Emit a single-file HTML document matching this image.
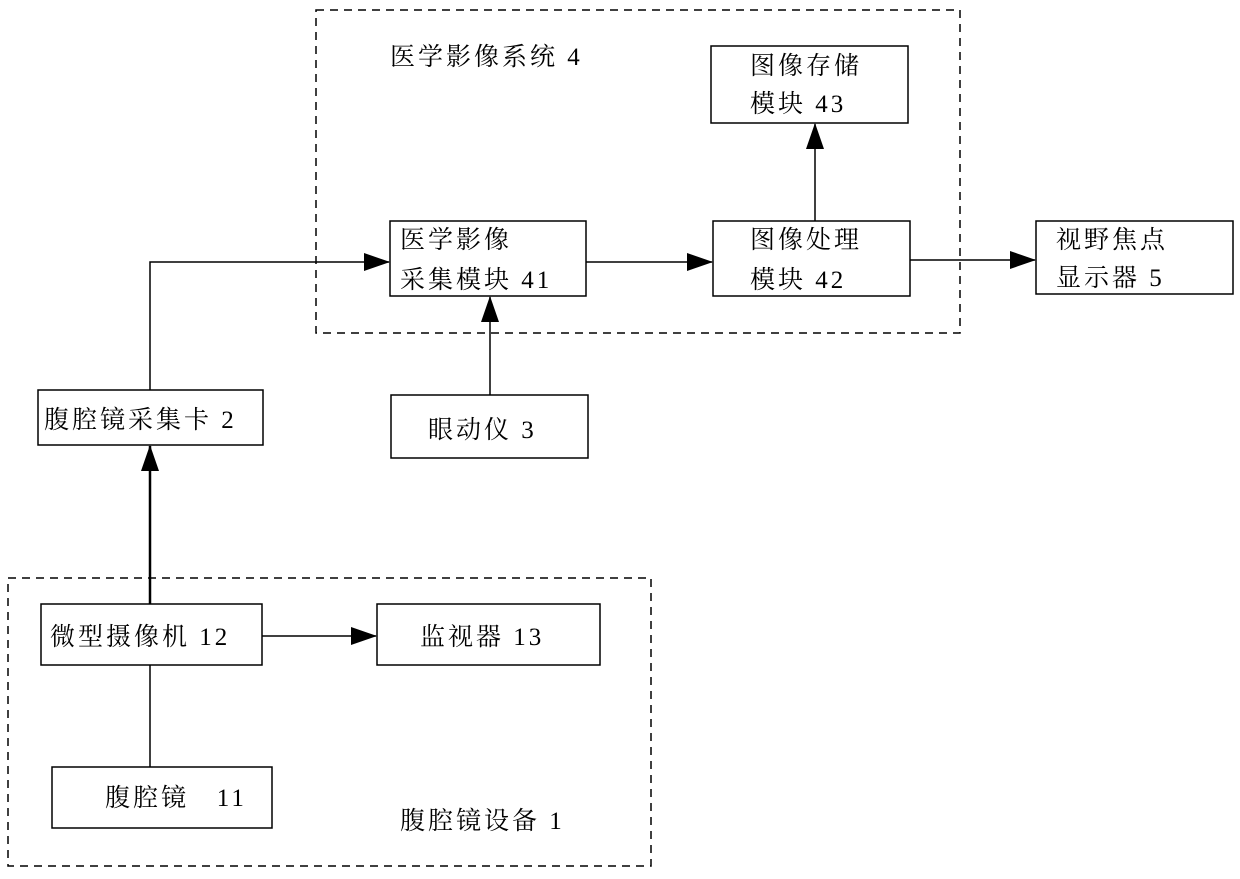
<!DOCTYPE html>
<html><head><meta charset="utf-8"><style>
html,body{margin:0;padding:0;background:#fff;}
svg text{font-family:"Liberation Serif","Noto Serif CJK SC","Noto Sans CJK SC",serif;font-size:25px;letter-spacing:3px;fill:#000;}
</style></head><body>
<svg width="1240" height="874" viewBox="0 0 1240 874" xmlns="http://www.w3.org/2000/svg">
<defs><marker id="b" markerWidth="26" markerHeight="18" refX="25" refY="9" orient="auto" markerUnits="userSpaceOnUse"><path d="M0,0 L26,9 L0,18 Z" fill="#000"/></marker></defs>
<g fill="none" stroke="#000" stroke-width="1.5">
<rect x="316" y="10" width="644" height="323" stroke-dasharray="8,6"/>
<rect x="8" y="578" width="643" height="288" stroke-dasharray="8,6"/>
<rect x="711" y="46" width="197" height="77"/>
<rect x="390" y="221" width="196" height="75"/>
<rect x="713" y="221" width="197" height="75"/>
<rect x="1036" y="221" width="197" height="73"/>
<rect x="38" y="390" width="225" height="55"/>
<rect x="391" y="395" width="197" height="63"/>
<rect x="41" y="604" width="221" height="61"/>
<rect x="377" y="604" width="223" height="61"/>
<rect x="52" y="767" width="220" height="61"/>
<polyline points="150,390 150,262 389,262" marker-end="url(#b)"/>
<line x1="586" y1="262" x2="712" y2="262" marker-end="url(#b)"/>
<line x1="815" y1="221" x2="815" y2="124" marker-end="url(#b)"/>
<line x1="910" y1="260" x2="1035" y2="260" marker-end="url(#b)"/>
<line x1="490" y1="395" x2="490" y2="297" marker-end="url(#b)"/>
<line x1="150" y1="604" x2="150" y2="446" stroke-width="2.5" marker-end="url(#b)"/>
<line x1="262" y1="636" x2="376" y2="636" marker-end="url(#b)"/>
<line x1="150" y1="767" x2="150" y2="665"/>
</g>
<text x="390" y="65">医学影像系统 4</text>
<text x="750" y="74">图像存储</text><text x="750" y="112">模块 43</text>
<text x="400" y="248">医学影像</text><text x="400" y="288">采集模块 41</text>
<text x="750" y="248">图像处理</text><text x="750" y="288">模块 42</text>
<text x="1056" y="248">视野焦点</text><text x="1056" y="286">显示器 5</text>
<text x="44" y="428">腹腔镜采集卡 2</text>
<text x="428" y="438">眼动仪 3</text>
<text x="50" y="645">微型摄像机 12</text>
<text x="420" y="645">监视器 13</text>
<text x="105" y="806">腹腔镜&#160;&#160;&#160;11</text>
<text x="400" y="829">腹腔镜设备 1</text>
</svg>
</body></html>
